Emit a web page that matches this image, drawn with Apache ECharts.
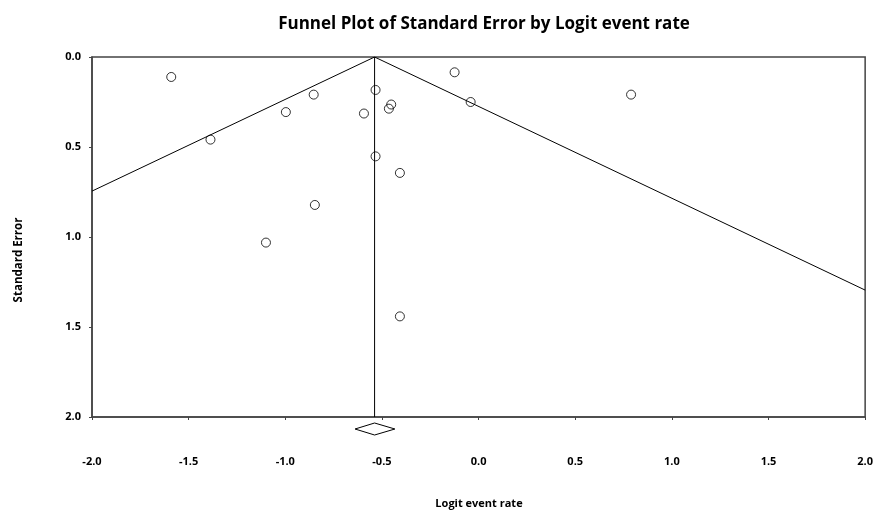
<!DOCTYPE html>
<html>
<head>
<meta charset="utf-8">
<script src="https://cdn.jsdelivr.net/npm/echarts@6/dist/echarts.min.js"></script>
<style>html,body{margin:0;padding:0;background:#fff}#c{width:876px;height:510px}</style>
</head>
<body>
<div id="c"></div>
<script>
// Study points: logit event rate (x) and standard error (y)
var studyX = [-1.59, -1.387, -0.997, -0.853, -0.533, -0.452, -0.464, -0.593, -0.124, -0.041, -0.533, -0.407, 0.789, -0.847, -1.10, -0.407];
var studyY = [0.111, 0.459, 0.306, 0.209, 0.183, 0.264, 0.287, 0.314, 0.085, 0.250, 0.552, 0.644, 0.209, 0.822, 1.031, 1.441];
// Combined effect and its confidence interval
var pooledMean = -0.538;
var pooledLow = -0.639;
var pooledHigh = -0.433;
// Funnel line end points (x, SE) at the plot edges
var leftFunnel = [[-0.538, 0], [-2.0, 0.745]];
var rightFunnel = [[-0.538, 0], [2.0, 1.295]];
var meanLine = [[-0.538, 0], [-0.538, 2.0]];
// Axis ticks
var xTicks = [-2.0, -1.5, -1.0, -0.5, 0.0, 0.5, 1.0, 1.5, 2.0];
var yTicks = [0.0, 0.5, 1.0, 1.5, 2.0];

var FONT = '"Open Sans", Lato, sans-serif';
var points = studyX.map(function (x, i) { return [x, studyY[i]]; });

var chart = echarts.init(document.getElementById('c'), null, {renderer: 'canvas'});
chart.setOption({
  animation: false,
  backgroundColor: '#fff',
  title: {
    text: 'Funnel Plot of Standard Error by Logit event rate',
    left: 479, textAlign: 'center', top: 11,
    textStyle: {fontFamily: FONT, fontSize: 17, fontWeight: 'bold', color: '#000'}
  },
  grid: {left: 92, right: 9, top: 57, bottom: 93, show: true, borderColor: '#444', borderWidth: 1.5, backgroundColor: 'transparent'},
  xAxis: {
    type: 'value', min: xTicks[0], max: xTicks[xTicks.length - 1], interval: 0.5,
    axisLine: {show: true, onZero: false, lineStyle: {color: '#444', width: 1.5}},
    axisTick: {show: true, length: 3, lineStyle: {color: '#444'}},
    splitLine: {show: false},
    axisLabel: {margin: 39, color: '#000', fontFamily: FONT, fontSize: 11, fontWeight: 'bold',
      formatter: function (v) { return v.toFixed(1); }}
  },
  yAxis: {
    type: 'value', inverse: true, min: yTicks[0], max: yTicks[yTicks.length - 1], interval: 0.5,
    axisLine: {show: true, onZero: false, lineStyle: {color: '#444', width: 1.5}},
    axisTick: {show: true, length: 3, lineStyle: {color: '#444'}},
    splitLine: {show: false},
    axisLabel: {margin: 11, color: '#000', fontFamily: FONT, fontSize: 11, fontWeight: 'bold',
      formatter: function (v) { return v.toFixed(1); }}
  },
  graphic: [
    {type: 'text', x: 479, y: 504,
      style: {text: 'Logit event rate', font: 'bold 11px ' + FONT, fill: '#000', textAlign: 'center', textVerticalAlign: 'middle'}},
    {type: 'text', x: 19, y: 260, rotation: Math.PI / 2,
      style: {text: 'Standard Error', font: 'bold 11.5px ' + FONT, fill: '#000', textAlign: 'center', textVerticalAlign: 'middle'}}
  ],
  series: [
    {type: 'line', data: leftFunnel, symbol: 'none', lineStyle: {color: '#000', width: 1}, silent: true},
    {type: 'line', data: rightFunnel, symbol: 'none', lineStyle: {color: '#000', width: 1}, silent: true},
    {type: 'line', data: meanLine, symbol: 'none', lineStyle: {color: '#000', width: 1}, silent: true},
    {type: 'scatter', data: points, symbol: 'circle', symbolSize: 9,
      itemStyle: {color: 'rgba(0,0,0,0)', borderColor: '#000', borderWidth: 1}},
    {type: 'custom', clip: false, data: [[pooledLow, pooledMean, pooledHigh]],
      renderItem: function (params, api) {
        var lo = api.coord([api.value(0), 2]);
        var mid = api.coord([api.value(1), 2]);
        var hi = api.coord([api.value(2), 2]);
        var cy = lo[1] + 12;
        return {type: 'polygon', shape: {points: [[lo[0], cy], [mid[0], cy - 6], [hi[0], cy], [mid[0], cy + 6]]},
          style: {fill: '#fff', stroke: '#000', lineWidth: 1}};
      }}
  ]
});
</script>
</body>
</html>
